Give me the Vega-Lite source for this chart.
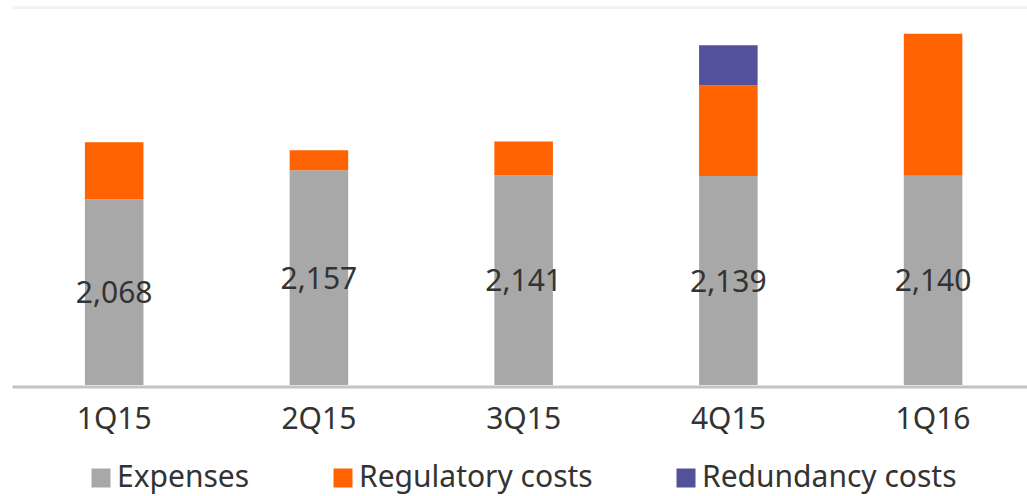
{
  "$schema": "https://vega.github.io/schema/vega-lite/v6.json",
  "autosize": "none",
  "width": 1015,
  "height": 379,
  "padding": {"left": 12, "top": 6, "right": 0, "bottom": 111},
  "background": "white",
  "config": {
    "view": {"stroke": null},
    "font": "Noto Sans"
  },
  "data": {
    "values": [
      {"quarter": "1Q15", "type": "Expenses", "order": 1, "value": 2068},
      {"quarter": "2Q15", "type": "Expenses", "order": 1, "value": 2157},
      {"quarter": "3Q15", "type": "Expenses", "order": 1, "value": 2141},
      {"quarter": "4Q15", "type": "Expenses", "order": 1, "value": 2139},
      {"quarter": "1Q16", "type": "Expenses", "order": 1, "value": 2140},
      {"quarter": "1Q15", "type": "Regulatory costs", "order": 2, "value": 174},
      {"quarter": "2Q15", "type": "Regulatory costs", "order": 2, "value": 61},
      {"quarter": "3Q15", "type": "Regulatory costs", "order": 2, "value": 104},
      {"quarter": "4Q15", "type": "Regulatory costs", "order": 2, "value": 278},
      {"quarter": "1Q16", "type": "Regulatory costs", "order": 2, "value": 434},
      {"quarter": "4Q15", "type": "Redundancy costs", "order": 3, "value": 122}
    ]
  },
  "layer": [
    {
      "mark": {"type": "bar", "clip": true},
      "encoding": {
        "x": {
          "field": "quarter", "type": "nominal",
          "sort": ["1Q15", "2Q15", "3Q15", "4Q15", "1Q16"],
          "scale": {"paddingInner": 0.714, "paddingOuter": 0.336, "align": 0.53},
          "axis": {
            "title": null, "labelAngle": 0, "labelFontSize": 30, "labelColor": "#333333",
            "ticks": false, "domainColor": "#c4c4c4", "domainWidth": 3, "offset": 1.5,
            "labelPadding": 18, "labelFont": "Noto Sans"
          }
        },
        "y": {
          "field": "value", "type": "quantitative", "stack": "zero",
          "scale": {"domain": [1500, 2659], "zero": false, "nice": false},
          "axis": {
            "title": null, "values": [2655], "grid": true, "gridColor": "#f2f2f2", "gridWidth": 3,
            "labels": false, "ticks": false, "domain": false
          }
        },
        "color": {
          "field": "type", "type": "nominal",
          "scale": {
            "domain": ["Expenses", "Regulatory costs", "Redundancy costs"],
            "range": ["#a8a8a8", "#ff6200", "#525199"]
          },
          "legend": {
            "title": null, "orient": "none", "direction": "horizontal",
            "legendX": 74, "legendY": 457, "padding": 0,
            "symbolType": "square", "symbolSize": 361, "symbolStrokeWidth": 0,
            "labelFontSize": 30, "labelColor": "#333333", "labelFont": "Noto Sans",
            "labelLimit": 500, "columnPadding": 78, "labelOffset": 1
          }
        },
        "order": {"field": "order", "type": "quantitative"}
      }
    },
    {
      "transform": [
        {"filter": "datum.type === 'Expenses'"},
        {"calculate": "(datum.value + 1500) / 2", "as": "mid"}
      ],
      "mark": {"type": "text", "fontSize": 30, "color": "#333333", "baseline": "middle", "dy": 2},
      "encoding": {
        "x": {"field": "quarter", "type": "nominal", "sort": ["1Q15", "2Q15", "3Q15", "4Q15", "1Q16"]},
        "y": {"field": "mid", "type": "quantitative"},
        "text": {"field": "value", "type": "quantitative", "format": ","}
      }
    }
  ]
}
